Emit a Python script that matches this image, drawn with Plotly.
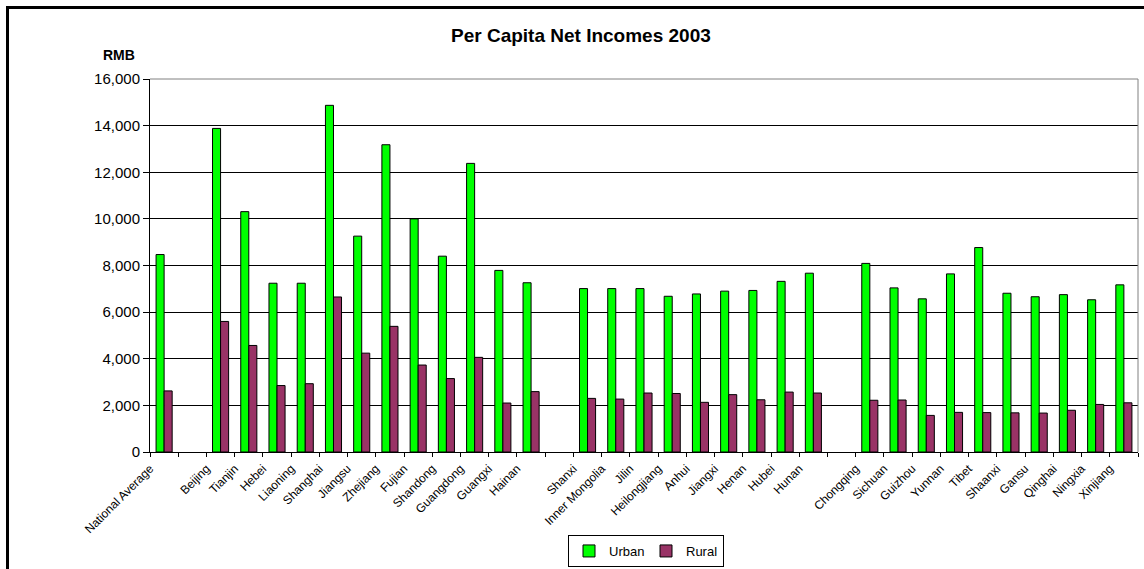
import plotly.graph_objects as go

# ---- data (empty strings / None mark the blank spacer categories) ----
categories = [
    "National Average", "",
    "Beijing", "Tianjin", "Hebei", "Liaoning", "Shanghai", "Jiangsu", "Zhejiang",
    "Fujian", "Shandong", "Guangdong", "Guangxi", "Hainan", "",
    "Shanxi", "Inner Mongolia", "Jilin", "Heilongjiang", "Anhui", "Jiangxi",
    "Henan", "Hubei", "Hunan", "",
    "Chongqing", "Sichuan", "Guizhou", "Yunnan", "Tibet", "Shaanxi", "Gansu",
    "Qinghai", "Ningxia", "Xinjiang",
]
urban = [
    8470, None,
    13880, 10310, 7240, 7240, 14870, 9260, 13180,
    10000, 8400, 12380, 7790, 7260, None,
    7010, 7010, 7010, 6680, 6780, 6900,
    6930, 7320, 7670, None,
    8090, 7040, 6570, 7640, 8770, 6810, 6660,
    6750, 6530, 7170,
]
rural = [
    2620, None,
    5600, 4570, 2850, 2930, 6650, 4240, 5390,
    3730, 3150, 4060, 2100, 2590, None,
    2300, 2270, 2530, 2510, 2130, 2460,
    2240, 2570, 2530, None,
    2220, 2230, 1570, 1700, 1690, 1680, 1670,
    1790, 2040, 2110,
]
y_ticks = [0, 2000, 4000, 6000, 8000, 10000, 12000, 14000, 16000]

FONT = "Liberation Sans, Arial, sans-serif"
n = len(categories)
xs = list(range(n))

fig = go.Figure()
fig.add_trace(go.Bar(x=xs, y=urban, name="Urban",
                     marker=dict(color="#00FF00", line=dict(color="black", width=1))))
fig.add_trace(go.Bar(x=xs, y=rural, name="Rural",
                     marker=dict(color="#993366", line=dict(color="black", width=1))))

W, H = 1144, 569
L, R, T, B = 150, 1138, 79, 452
pw, ph = R - L, B - T

def px2x(p):
    return (p - L) / pw

def py2y(p):
    return (B - p) / ph

fig.update_layout(
    width=W, height=H,
    margin=dict(l=L, r=W - R, t=T, b=H - B, pad=0, autoexpand=False),
    paper_bgcolor="white", plot_bgcolor="white",
    barmode="group", bargap=0.43, bargroupgap=0,
    font=dict(family=FONT, color="black"),
    showlegend=True,
    legend=dict(orientation="h", x=px2x(568), y=py2y(567), xanchor="left", yanchor="bottom",
                bordercolor="black", borderwidth=1, bgcolor="white",
                font=dict(size=13, family=FONT), traceorder="normal",
                itemwidth=30, tracegroupgap=0, entrywidth=32, entrywidthmode="pixels"),
    xaxis=dict(
        range=[-0.5, n - 0.5],
        tickmode="array",
        tickvals=[i - 0.5 for i in range(n + 1)],
        ticktext=categories + [""],
        tickangle=-45,
        ticks="outside", ticklen=4, tickcolor="black", tickwidth=1,
        showline=True, linecolor="black", linewidth=1,
        showgrid=False, zeroline=False, automargin=False,
        tickfont=dict(size=12, family=FONT),
    ),
    yaxis=dict(
        range=[0, 16000],
        tickmode="array", tickvals=y_ticks,
        tickformat=",d",
        ticks="outside", ticklen=6, tickcolor="black", tickwidth=1,
        showline=True, linecolor="black", linewidth=1,
        showgrid=True, gridcolor="black", gridwidth=1,
        zeroline=False, automargin=False,
        tickfont=dict(size=15, family=FONT),
    ),
    shapes=[
        # plot-area top and right border (gray)
        dict(type="line", xref="paper", yref="paper", x0=0, x1=1, y0=1, y1=1,
             line=dict(color="#808080", width=1), layer="above"),
        dict(type="line", xref="paper", yref="paper", x0=1, x1=1, y0=0, y1=1,
             line=dict(color="#808080", width=1), layer="above"),
        # outer chart frame
        dict(type="rect", xref="paper", yref="paper",
             x0=px2x(7.5), x1=px2x(1160), y0=py2y(7.5), y1=py2y(600),
             line=dict(color="black", width=3), fillcolor="rgba(0,0,0,0)", layer="above"),
    ],
    annotations=[
        dict(text="<b>Per Capita Net Incomes 2003</b>", xref="paper", yref="paper",
             x=px2x(581), y=py2y(36), xanchor="center", yanchor="middle",
             showarrow=False, font=dict(size=19, family=FONT, color="black")),
        dict(text="<b>RMB</b>", xref="paper", yref="paper",
             x=px2x(137), y=py2y(55), xanchor="right", yanchor="middle",
             showarrow=False, font=dict(size=14, family=FONT, color="black")),
    ],
)

fig.write_html("out.html")
